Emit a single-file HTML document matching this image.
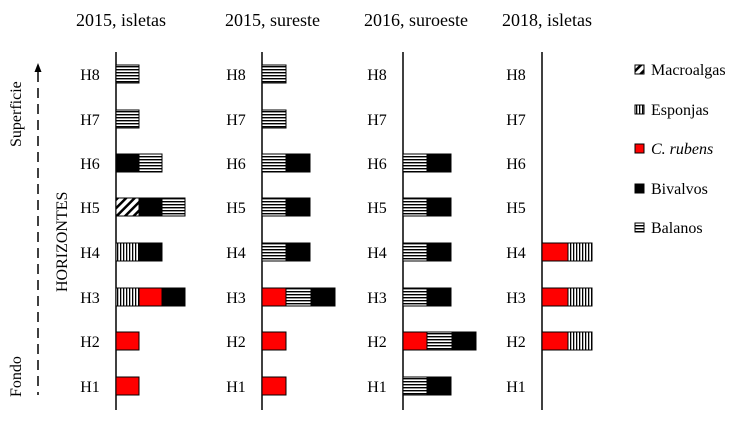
<!DOCTYPE html><html><head><style>body{margin:0;background:#fff}svg{display:block}text{font-family:"Liberation Serif",serif;fill:#000}</style></head><body>
<svg width="736" height="422" xmlns="http://www.w3.org/2000/svg">
<defs>
<pattern id="bal" width="4" height="3" patternUnits="userSpaceOnUse"><rect width="4" height="3" fill="#fff"/><rect y="0" width="4" height="1.4" fill="#000"/></pattern>
<pattern id="esp" width="3" height="4" patternUnits="userSpaceOnUse"><rect width="3" height="4" fill="#fff"/><rect x="0" width="1.3" height="4" fill="#000"/></pattern>
<pattern id="mac" width="6" height="6" patternUnits="userSpaceOnUse" patternTransform="rotate(45)"><rect width="6" height="6" fill="#fff"/><rect width="2.5" height="6" fill="#000"/></pattern>
</defs>
<g font-size="18">
<text x="76" y="26">2015, isletas</text>
<text x="225" y="26">2015, sureste</text>
<text x="364" y="26">2016, suroeste</text>
<text x="502" y="26">2018, isletas</text>
</g>
<g font-size="16" text-anchor="middle">
<g id="lbl">
<text x="90" y="80">H8</text><text x="90" y="125">H7</text><text x="90" y="169">H6</text><text x="90" y="213">H5</text><text x="90" y="258">H4</text><text x="90" y="303">H3</text><text x="90" y="347">H2</text><text x="90" y="392">H1</text>
</g>
<use href="#lbl" x="146"/><use href="#lbl" x="287"/><use href="#lbl" x="426"/>
</g>
<g stroke="#000" stroke-width="1.5">
<line x1="116" y1="52" x2="116" y2="410"/><line x1="262" y1="52" x2="262" y2="410"/><line x1="403" y1="52" x2="403" y2="410"/><line x1="542" y1="52" x2="542" y2="410"/>
</g>
<line x1="38" y1="72" x2="38" y2="395" stroke="#000" stroke-width="1.5" stroke-dasharray="10,6"/>
<path d="M34.5 72 L38 63 L41.5 72 Z" fill="#000"/>
<text font-size="16" transform="translate(21,147) rotate(-90)">Superficie</text>
<text font-size="16" transform="translate(21,397) rotate(-90)">Fondo</text>
<text font-size="16" transform="translate(67,292) rotate(-90)">HORIZONTES</text>
<g stroke="#000" stroke-width="1">
<rect x="116" y="65" width="23" height="18" fill="url(#bal)"/>
<rect x="116" y="110" width="23" height="18" fill="url(#bal)"/>
<rect x="116" y="154" width="23" height="18" fill="#000"/><rect x="139" y="154" width="23" height="18" fill="url(#bal)"/>
<rect x="116" y="198" width="23" height="18" fill="url(#mac)"/><rect x="139" y="198" width="23" height="18" fill="#000"/><rect x="162" y="198" width="23" height="18" fill="url(#bal)"/>
<rect x="116" y="243" width="23" height="18" fill="url(#esp)"/><rect x="139" y="243" width="23" height="18" fill="#000"/>
<rect x="116" y="288" width="23" height="18" fill="url(#esp)"/><rect x="139" y="288" width="23" height="18" fill="#f00"/><rect x="162" y="288" width="23" height="18" fill="#000"/>
<rect x="116" y="332" width="23" height="18" fill="#f00"/>
<rect x="116" y="377" width="23" height="18" fill="#f00"/>
<rect x="262" y="65" width="24" height="18" fill="url(#bal)"/>
<rect x="262" y="110" width="24" height="18" fill="url(#bal)"/>
<rect x="262" y="154" width="24" height="18" fill="url(#bal)"/><rect x="286" y="154" width="24" height="18" fill="#000"/>
<rect x="262" y="198" width="24" height="18" fill="url(#bal)"/><rect x="286" y="198" width="24" height="18" fill="#000"/>
<rect x="262" y="243" width="24" height="18" fill="url(#bal)"/><rect x="286" y="243" width="24" height="18" fill="#000"/>
<rect x="262" y="288" width="24" height="18" fill="#f00"/><rect x="286" y="288" width="25" height="18" fill="url(#bal)"/><rect x="311" y="288" width="24" height="18" fill="#000"/>
<rect x="262" y="332" width="24" height="18" fill="#f00"/>
<rect x="262" y="377" width="24" height="18" fill="#f00"/>
<rect x="403" y="154" width="24" height="18" fill="url(#bal)"/><rect x="427" y="154" width="24" height="18" fill="#000"/>
<rect x="403" y="198" width="24" height="18" fill="url(#bal)"/><rect x="427" y="198" width="24" height="18" fill="#000"/>
<rect x="403" y="243" width="24" height="18" fill="url(#bal)"/><rect x="427" y="243" width="24" height="18" fill="#000"/>
<rect x="403" y="288" width="24" height="18" fill="url(#bal)"/><rect x="427" y="288" width="24" height="18" fill="#000"/>
<rect x="403" y="332" width="24" height="18" fill="#f00"/><rect x="427" y="332" width="25" height="18" fill="url(#bal)"/><rect x="452" y="332" width="24" height="18" fill="#000"/>
<rect x="403" y="377" width="24" height="18" fill="url(#bal)"/><rect x="427" y="377" width="24" height="18" fill="#000"/>
<rect x="542" y="243" width="26" height="18" fill="#f00"/><rect x="568" y="243" width="24" height="18" fill="url(#esp)"/>
<rect x="542" y="288" width="26" height="18" fill="#f00"/><rect x="568" y="288" width="24" height="18" fill="url(#esp)"/>
<rect x="542" y="332" width="26" height="18" fill="#f00"/><rect x="568" y="332" width="24" height="18" fill="url(#esp)"/>
<rect x="635" y="65" width="9" height="9" fill="url(#mac)"/>
<rect x="635" y="105" width="9" height="9" fill="url(#esp)"/>
<rect x="635" y="144" width="9" height="9" fill="#f00"/>
<rect x="635" y="184" width="9" height="9" fill="#000"/>
<rect x="635" y="223" width="9" height="9" fill="url(#bal)"/>
</g>
<g font-size="16">
<text x="651" y="75">Macroalgas</text>
<text x="651" y="115">Esponjas</text>
<text x="651" y="154" font-style="italic">C. rubens</text>
<text x="651" y="194">Bivalvos</text>
<text x="651" y="233">Balanos</text>
</g>
</svg>
</body></html>
